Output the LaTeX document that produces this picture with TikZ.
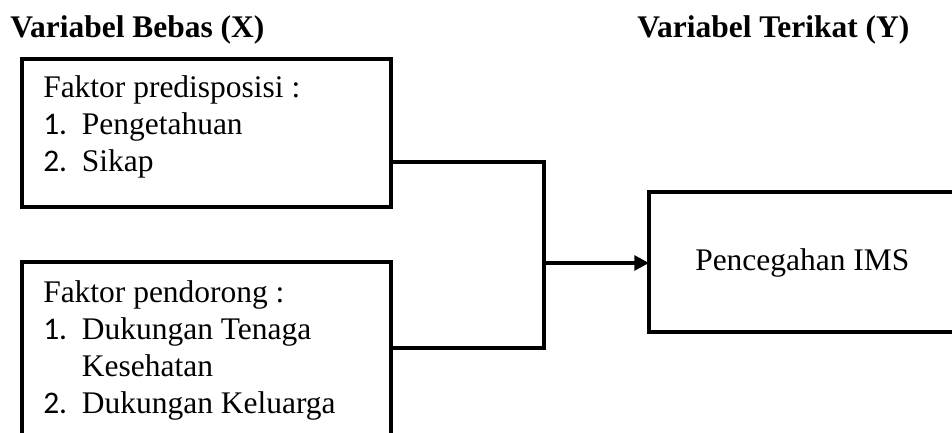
\documentclass[tikz,border=0pt]{standalone}
\usepackage{fontspec}
\setmainfont{Liberation Serif}
\newfontfamily\numfont{Carlito}
\usetikzlibrary{arrows.meta}
\newcommand{\bodysize}{\fontsize{23.6pt}{28pt}\selectfont}
\newcommand{\numitem}[1]{\makebox[29pt][l]{\numfont #1}}
\tikzset{
  lbl/.style={anchor=base west, inner sep=0pt, font=\bodysize},
  ttl/.style={anchor=base west, inner sep=0pt, font=\bodysize\bfseries},
  boxline/.style={line width=3pt},
  conn/.style={line width=2.7pt},
}
\begin{document}
\begin{tikzpicture}[x=0.75pt,y=-0.75pt]
\useasboundingbox (0,0) rectangle (952,432);
\clip (0,0) rectangle (952,432);
% titles
\node[ttl] (tx) at (10,37) {Variabel Bebas (X)};
\node[ttl] (ty) at (637,37) {Variabel Terikat (Y)};
% boxes
\draw[boxline] (22,59) rectangle (391,207);
\coordinate (b1e) at (391,162);
\draw[boxline] (22,262) rectangle (391,460);
\coordinate (b2e) at (391,348);
\draw[boxline] (649,192) rectangle (980,332);
\coordinate (b3w) at (649,263);
\coordinate (j1) at (544,162);
\coordinate (j2) at (544,348);
\coordinate (jm) at (544,263);
% box 1 text
\node[lbl] (a1) at (43,97) {Faktor predisposisi :};
\node[lbl] (a2) at (43,134) {\numitem{1.}Pengetahuan};
\node[lbl] (a3) at (43,171) {\numitem{2.}Sikap};
% box 2 text
\node[lbl] (c1) at (43,302) {Faktor pendorong :};
\node[lbl] (c2) at (43,339) {\numitem{1.}Dukungan Tenaga};
\node[lbl] (c3) at (43,376) {\hspace{29pt}Kesehatan};
\node[lbl] (c4) at (43,413) {\numitem{2.}Dukungan Keluarga};
% box 3 text
\node[lbl] (d1) at (695,270) {Pencegahan IMS};
% connectors
\draw[conn] (b1e) -- (j1) -- (j2) -- (b2e);
\draw[conn,-{Triangle[length=11pt,width=11pt]}] (jm) -- (b3w);
\end{tikzpicture}
\end{document}
